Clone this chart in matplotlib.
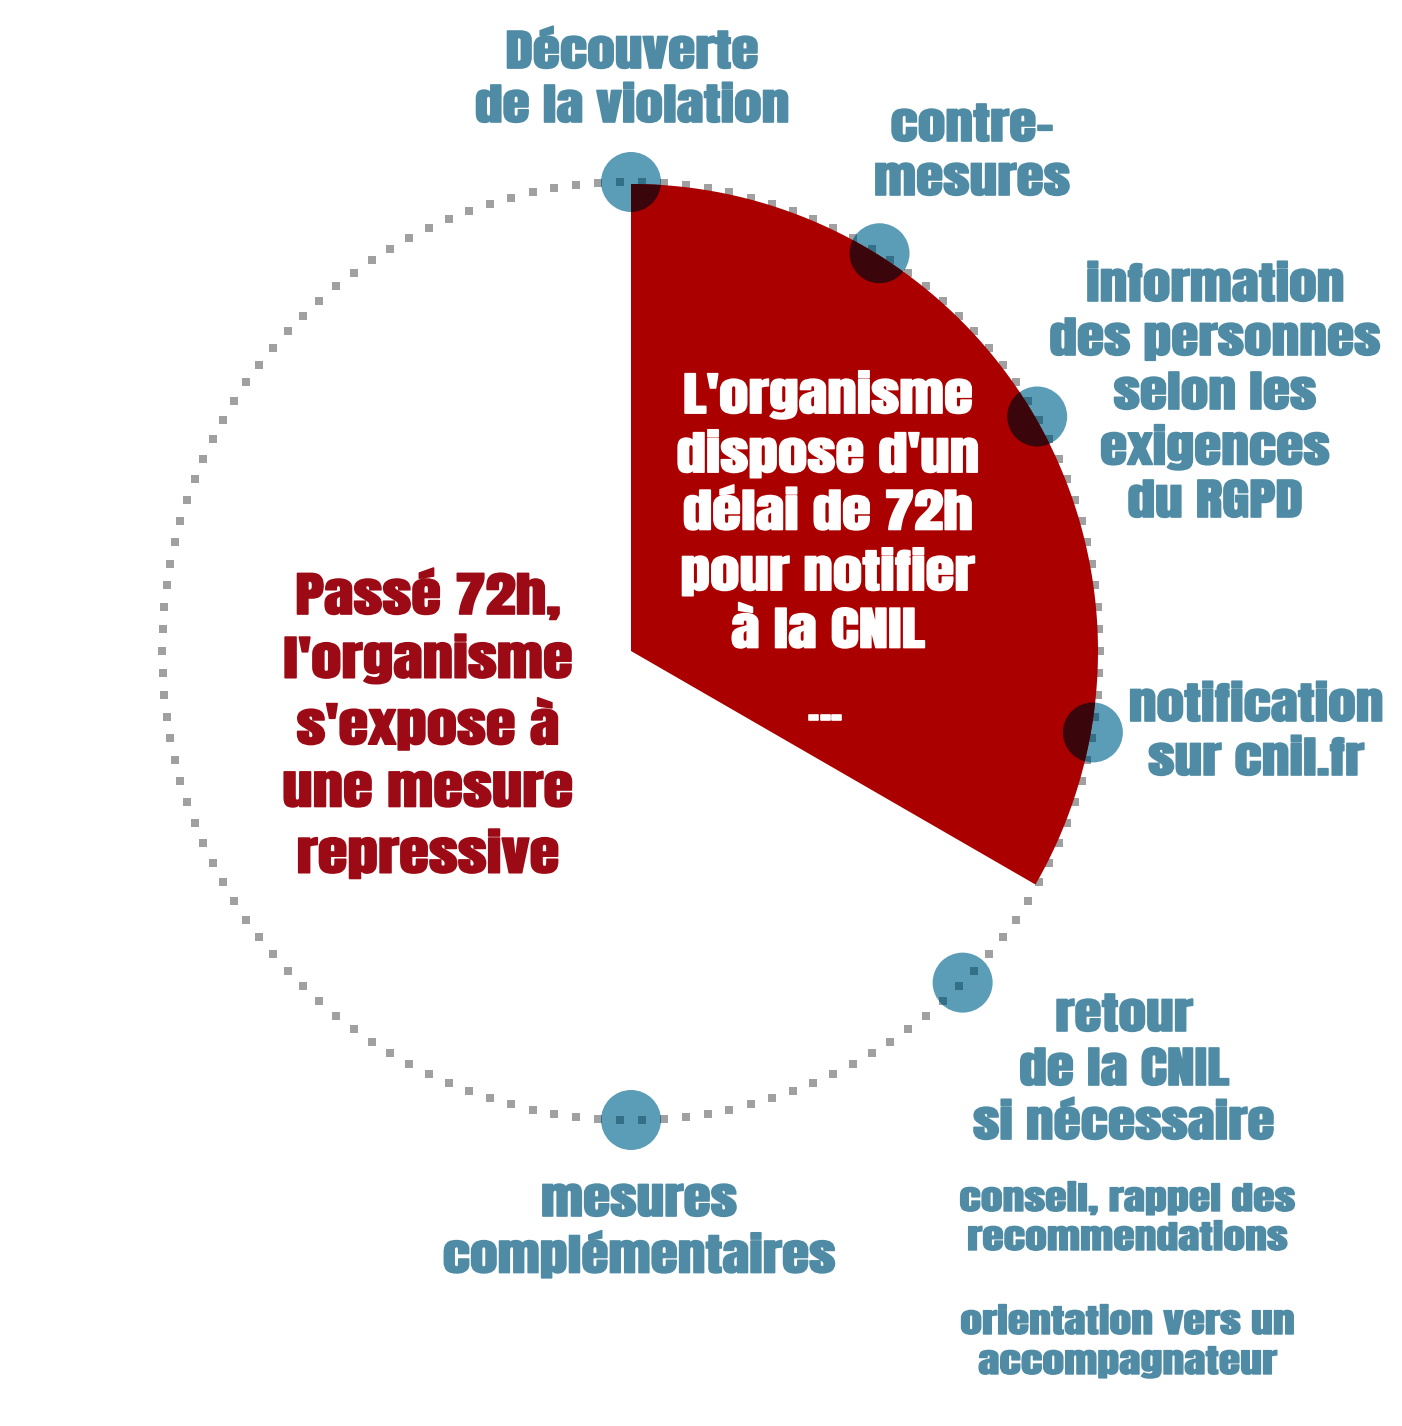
import matplotlib
matplotlib.use('Agg')
import matplotlib.pyplot as plt
import matplotlib.patheffects as pe
from matplotlib import font_manager
from matplotlib.patches import Circle, Polygon
from matplotlib.transforms import Affine2D
import numpy as np

# steps of the breach timeline, angle on the circle (deg, 90 = top, clockwise negative)
step_angles = [90, 58, 30, -10, -45, -90]
step_labels = [
    ["Découverte", "de la violation"],
    ["contre-", "mesures"],
    ["information", "des personnes", "selon les", "exigences", "du RGPD"],
    ["notification", "sur cnil.fr"],
    ["retour", "de la CNIL", "si nécessaire"],
    ["mesures", "complémentaires"],
]
retour_details = [["conseil, rappel des", "recommendations"],
                  ["orientation vers un", "accompagnateur"]]

# 72h window as a wedge of the cycle
window_start = 90
window_end = -30
inside_text = ["L'organisme", "dispose d'un", "délai de 72h", "pour notifier", "à la CNIL"]
outside_text = ["Passé 72h,", "l'organisme", "s'expose à", "une mesure", "repressive"]

BLUE_DOT = '#5b9cb6'
BLUE_TXT = '#4f8ba4'
RED = '#ab0000'
DARK_RED = '#9c0b15'

installed = {f.name for f in font_manager.fontManager.ttflist}
FONT = [f for f in ['Anton', 'Oswald', 'Fjalla One', 'League Gothic', 'Roboto Condensed',
                    'Archivo Narrow', 'PT Sans Narrow'] if f in installed][:1] + ['DejaVu Sans']

W, H = 1402, 1426
cx, cy, R = 631, 651, 469

fig = plt.figure(figsize=(W / 100, H / 100), dpi=100)
ax = fig.add_axes([0, 0, 1, 1])
ax.set_xlim(0, W)
ax.set_ylim(H, 0)
ax.axis('off')


class Wide(pe.AbstractPathEffect):
    # widen glyphs around x0 (display coords) and give them a thin outline
    def __init__(self, x0, sx, lw, color):
        super().__init__()
        self.x0, self.sx, self.lw, self.color = x0, sx, lw, color

    def draw_path(self, renderer, gc, tpath, affine, rgbFace=None):
        aff = affine + Affine2D().translate(-self.x0, 0).scale(self.sx, 1).translate(self.x0, 0)
        gc0 = renderer.new_gc()
        gc0.copy_properties(gc)
        gc0.set_linewidth(self.lw)
        gc0.set_foreground(self.color)
        renderer.draw_path(gc0, tpath, aff, rgbFace)
        gc0.restore()


def pos(angle, r=R):
    a = np.deg2rad(angle)
    return cx + r * np.cos(a), cy - r * np.sin(a)


# dotted circle
n_dots = 134
t = np.linspace(0, 360, n_dots, endpoint=False)
dx, dy = pos(t)
ax.scatter(dx, dy, s=26, color='#a0a0a0', marker='s', linewidths=0, zorder=1)

# blue step markers
markers = []
for a in step_angles:
    x, y = pos(a)
    c = Circle((x, y), 30, color=BLUE_DOT, zorder=2, lw=0)
    ax.add_patch(c)
    markers.append((x, y))
    inner = ax.scatter(dx, dy, s=26, color='#336f86', marker='s', linewidths=0, zorder=2.5)
    inner.set_clip_path(c)

# red wedge
th = np.linspace(window_end, window_start, 200)
wx, wy = pos(th, R - 2)
poly = np.vstack([np.column_stack([wx, wy]), [[cx, cy]]])
wedge = Polygon(poly, closed=True, color=RED, lw=0, zorder=3)
ax.add_patch(wedge)

# markers darkened where they sit on the wedge
for x, y in markers:
    d = Circle((x, y), 30, color='#3a060b', zorder=4, lw=0)
    ax.add_patch(d)
    d.set_clip_path(wedge)


def lines(texts, x, y0, step, size, color, sx=1.29, lw=1.2):
    x0 = ax.transData.transform((x, y0))[0]
    for i, s in enumerate(texts):
        ax.text(x, y0 + i * step, s, ha='center', va='center', fontsize=size,
                color=color, family=FONT, zorder=6,
                path_effects=[Wide(x0, sx, lw, color)])


label_pos = [(632, 52), (972, 125), (1215, 285), (1256, 705), (1124, 1015), (639, 1200)]
for txt, (x, y) in zip(step_labels, label_pos):
    lines(txt, x, y, 54, 31, BLUE_TXT)

lines(retour_details[0], 1128, 1198, 40, 23, BLUE_TXT, sx=1.37, lw=1.0)
lines(retour_details[1], 1128, 1322, 40, 23, BLUE_TXT, sx=1.37, lw=1.0)

lines(inside_text, 828, 395, 59, 33, 'white')
lines(["..."], 825, 706, 0, 28, 'white')
lines(outside_text, 428, 594, 65, 34, DARK_RED)

fig.savefig('out.png', dpi=100, facecolor='white')
